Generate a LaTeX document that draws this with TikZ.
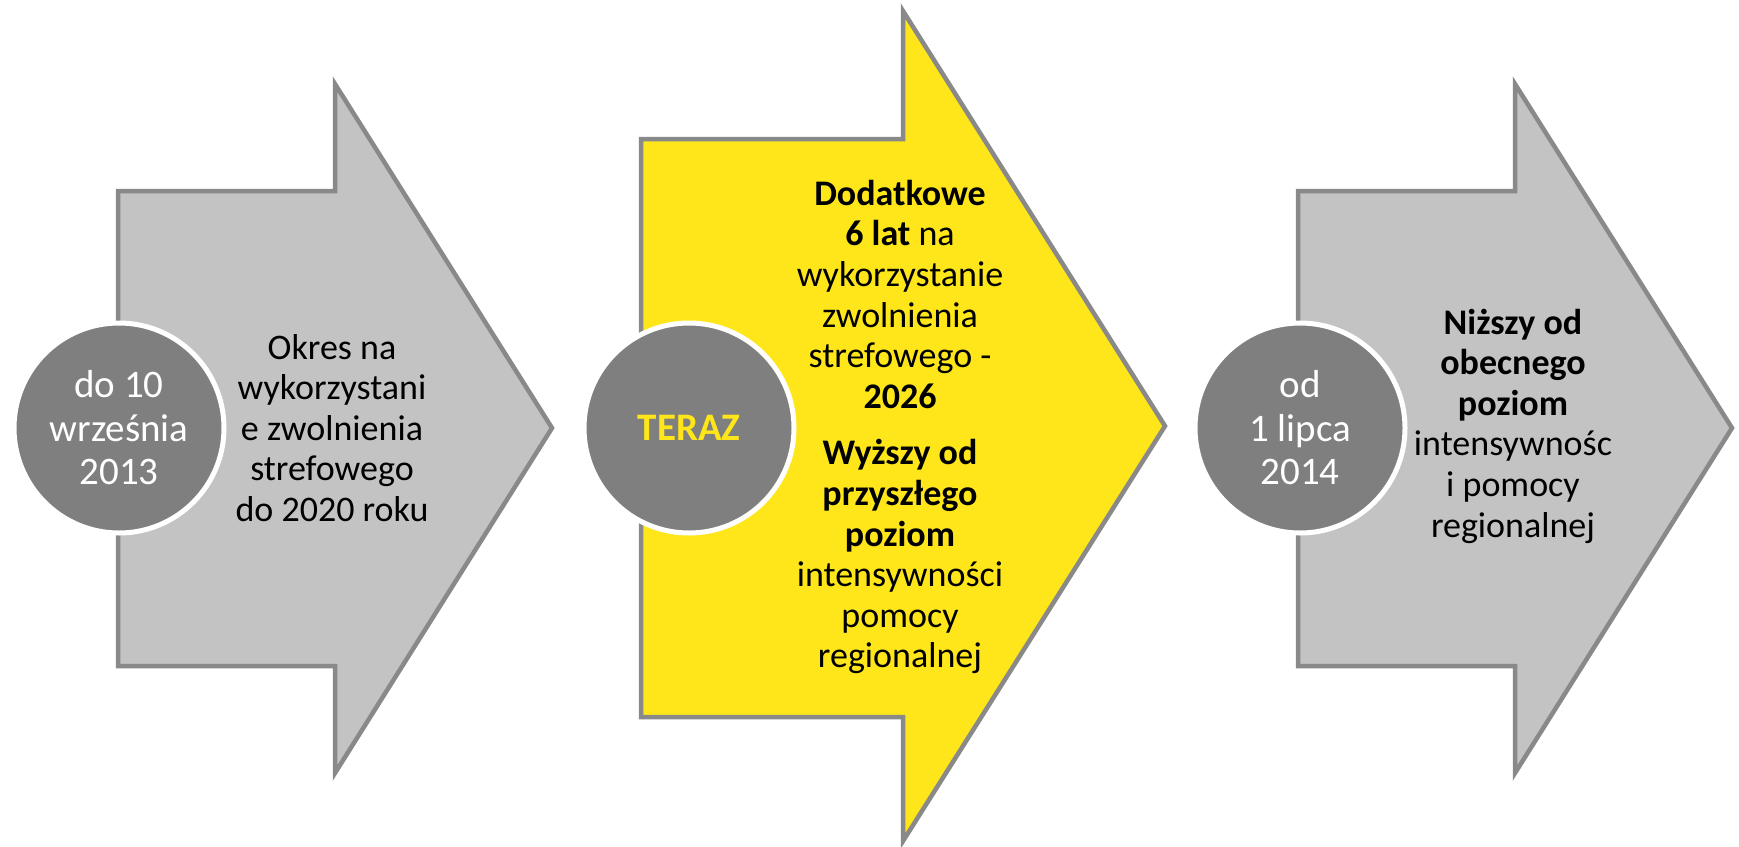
\documentclass[tikz,border=0pt]{standalone}
\usepackage{fontspec}
\setmainfont{Carlito}
\definecolor{arrowgray}{RGB}{195,195,195}
\definecolor{edgegray}{RGB}{137,137,137}
\definecolor{circgray}{RGB}{127,127,127}
\definecolor{ryellow}{RGB}{254,230,26}
\tikzset{
  arrowshape/.style={draw=edgegray, line width=4.5pt, line join=miter},
  datecirc/.style={circle, fill=circgray, draw=white, line width=5pt, minimum size=210pt, inner sep=0pt,
    text=white, align=center, font=\fontsize{39}{43.5}\selectfont},
  bodytext/.style={align=center, inner sep=0pt, text=black, font=\fontsize{36}{40.6}\selectfont}
}
\begin{document}
\begin{tikzpicture}[x=1pt,y=-1pt]
\useasboundingbox[fill=white] (0,0) rectangle (1739,846);
% arrow 1
\draw[arrowshape, fill=arrowgray] (118,191) -- (335,191) -- (335,84) -- (552,428) -- (335,773) -- (335,666) -- (118,666) -- cycle;
% arrow 2
\draw[arrowshape, fill=ryellow] (641,139) -- (903,139) -- (903,11) -- (1165,426) -- (903,841) -- (903,717) -- (641,717) -- cycle;
% arrow 3
\draw[arrowshape, fill=arrowgray] (1298,191) -- (1515,191) -- (1515,84) -- (1732,428) -- (1515,773) -- (1515,666) -- (1298,666) -- cycle;
% circles
\node[datecirc] (c1) at (119,428) {do 10\\września\\2013};
\node[datecirc, text=ryellow, font=\fontsize{39}{43.5}\selectfont\bfseries] (c2) at (689,428) {TERAZ};
\node[datecirc] (c3) at (1300,428) {od\\1 lipca\\2014};
% texts
\node[bodytext] (t1) at (332,428) {Okres na\\wykorzystani\\e zwolnienia\\strefowego\\do 2020 roku};
\node[bodytext] (t2) at (900,427) {\textbf{Dodatkowe}\\\textbf{6 lat} na\\wykorzystanie\\zwolnienia\\strefowego -\\\textbf{2026}\\[16pt]\textbf{Wyższy od}\\\textbf{przyszłego}\\\textbf{poziom}\\intensywności\\pomocy\\regionalnej};
\node[bodytext] (t3) at (1513,426) {\textbf{Niższy od}\\\textbf{obecnego}\\\textbf{poziom}\\intensywnośc\\i pomocy\\regionalnej};
\end{tikzpicture}
\end{document}
